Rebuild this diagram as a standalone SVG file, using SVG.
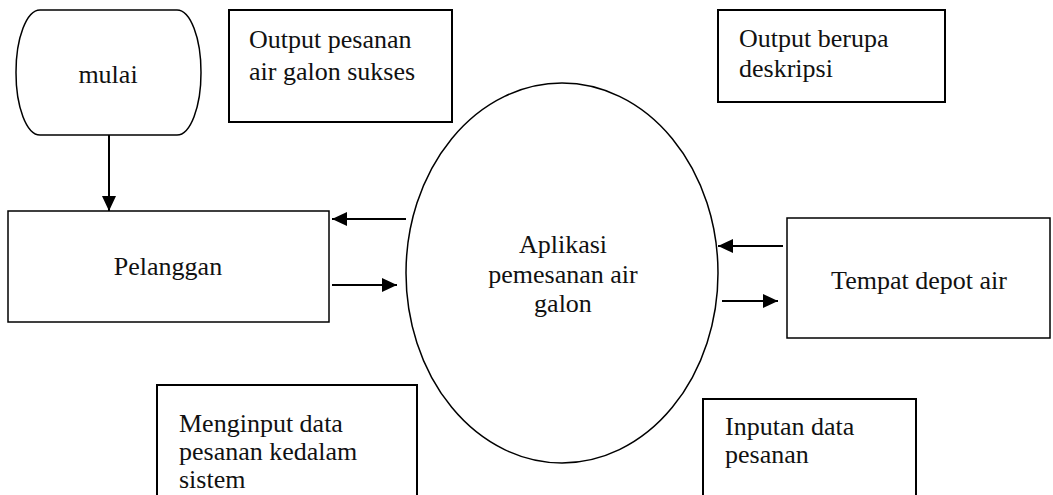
<svg xmlns="http://www.w3.org/2000/svg" width="1053" height="495" viewBox="0 0 1053 495">
  <style>
    .box { fill: #ffffff; stroke: #000000; stroke-width: 1.5; }
    .thick { stroke-width: 2; }
    .lbl { font-family: "Liberation Serif", "Times New Roman", serif; font-size: 26px; fill: #111111; }
    .mid { text-anchor: middle; }
    .flow { stroke: #000000; stroke-width: 2; fill: none; marker-end: url(#head); }
  </style>
  <defs>
    <marker id="head" markerUnits="userSpaceOnUse" markerWidth="15" markerHeight="14" refX="15" refY="7" orient="auto">
      <path d="M0,0 L15,7 L0,14 Z" fill="#000000"/>
    </marker>
  </defs>
  <rect width="1053" height="495" fill="#ffffff"/>

  <!-- Start terminal -->
  <g id="mulai">
    <path class="box" d="M40,10 H177 A24 62 0 0 1 201,72.5 A24 62 0 0 1 177,135 H40 A24 62 0 0 1 16,72.5 A24 62 0 0 1 40,10 Z"/>
    <text class="lbl mid" x="108" y="83">mulai</text>
  </g>

  <!-- Note: order output -->
  <g id="output-pesanan">
    <rect class="box thick" x="229" y="10" width="223" height="112"/>
    <text class="lbl" x="249" y="48">Output pesanan</text>
    <text class="lbl" x="249" y="80">air galon sukses</text>
  </g>

  <!-- Note: description output -->
  <g id="output-deskripsi">
    <rect class="box thick" x="718" y="10" width="227" height="92"/>
    <text class="lbl" x="739" y="47">Output berupa</text>
    <text class="lbl" x="739" y="77">deskripsi</text>
  </g>

  <!-- Customer entity -->
  <g id="pelanggan">
    <rect class="box" x="8" y="211" width="321" height="111"/>
    <text class="lbl mid" x="168" y="275">Pelanggan</text>
  </g>

  <!-- Central process -->
  <g id="aplikasi">
    <ellipse class="box" cx="562" cy="273" rx="156" ry="190"/>
    <text class="lbl mid" x="563" y="253">Aplikasi</text>
    <text class="lbl mid" x="563" y="283">pemesanan air</text>
    <text class="lbl mid" x="563" y="312">galon</text>
  </g>

  <!-- Depot entity -->
  <g id="tempat-depot">
    <rect class="box" x="787" y="218" width="263" height="120"/>
    <text class="lbl mid" x="919" y="289">Tempat depot air</text>
  </g>

  <!-- Note: customer input -->
  <g id="menginput">
    <rect class="box thick" x="157" y="385" width="260" height="130"/>
    <text class="lbl" x="179" y="432">Menginput data</text>
    <text class="lbl" x="179" y="460">pesanan kedalam</text>
    <text class="lbl" x="179" y="488">sistem</text>
  </g>

  <!-- Note: order data input -->
  <g id="inputan">
    <rect class="box thick" x="703" y="399" width="213" height="120"/>
    <text class="lbl" x="725" y="435">Inputan data</text>
    <text class="lbl" x="725" y="463">pesanan</text>
  </g>

  <!-- Connectors -->
  <g id="connectors">
    <line class="flow" x1="109" y1="135" x2="109" y2="211"/>
    <line class="flow" x1="406" y1="219" x2="332" y2="219"/>
    <line class="flow" x1="332" y1="285" x2="397" y2="285"/>
    <line class="flow" x1="783" y1="246" x2="718" y2="246"/>
    <line class="flow" x1="722" y1="301" x2="778" y2="301"/>
  </g>
</svg>
